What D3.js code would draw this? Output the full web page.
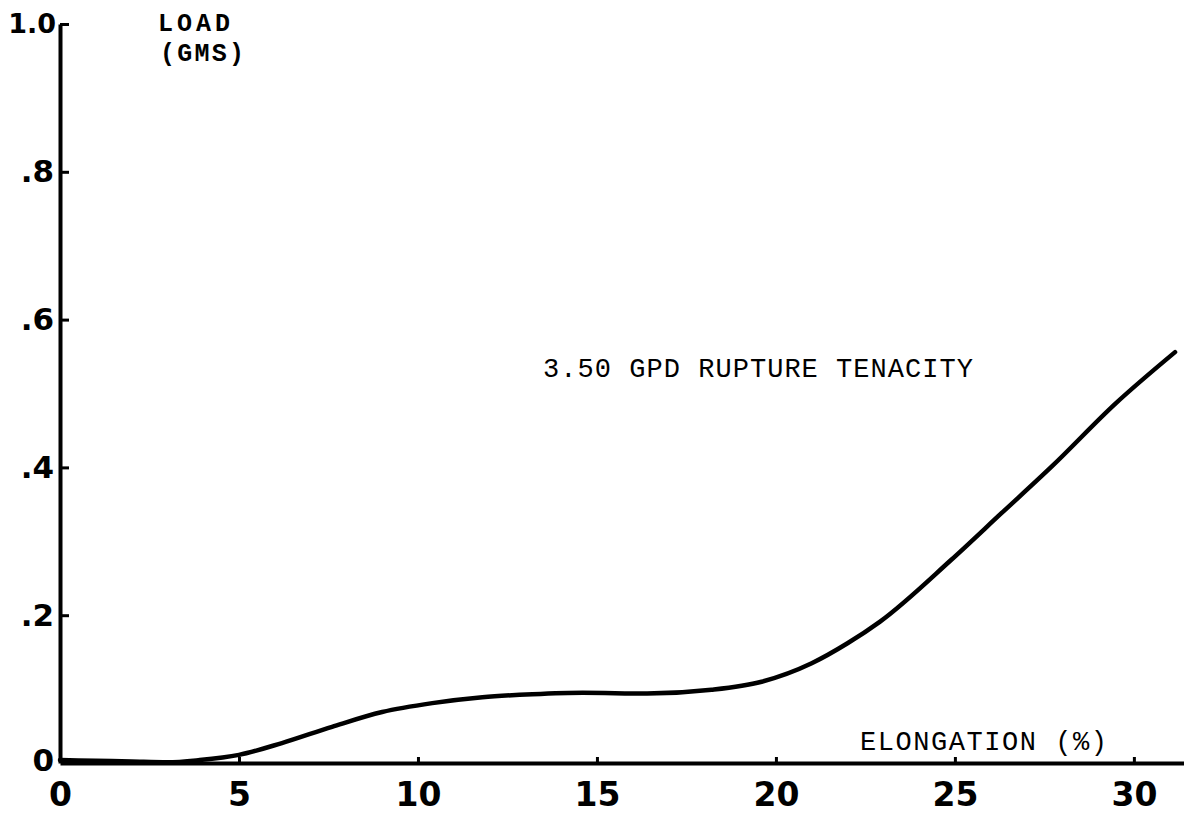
<!DOCTYPE html>
<html>
<head>
<meta charset="utf-8">
<script src="https://cdn.jsdelivr.net/npm/d3@7"></script>
<style>
  html, body { margin: 0; padding: 0; background: #fff; }
  svg { display: block; }
</style>
</head>
<body>
<svg id="chart" width="1184" height="814"></svg>
<script>
// ---- data ----
const elongation = [0, 1, 2, 3, 3.9, 5.0, 6.2, 7.6, 9.0, 10.4, 11.8, 13.2, 14.6, 16.4, 18.2, 19.6, 21.0, 22.0, 22.9, 24.9, 26.3, 27.7, 29.5, 31.15];
const load       = [0.004, 0.003, 0.002, 0.001, 0.004, 0.011, 0.027, 0.049, 0.069, 0.081, 0.089, 0.093, 0.095, 0.094, 0.099, 0.110, 0.135, 0.162, 0.191, 0.275, 0.338, 0.401, 0.487, 0.556];
const xTicks = [0, 5, 10, 15, 20, 25, 30];
const xTickLabels = ["0", "5", "10", "15", "20", "25", "30"];
const yTicks = [0, 0.2, 0.4, 0.6, 0.8, 1.0];
const yTickLabels = ["0", ".2", ".4", ".6", ".8", "1.0"];
const yAxisTitle = ["LOAD", "(GMS)"];
const xAxisTitle = "ELONGATION (%)";
const curveLabel = "3.50 GPD RUPTURE TENACITY";

// ---- layout ----
const svg = d3.select("#chart");
const x = d3.scaleLinear().domain([0, 31.4]).range([60, 1184]);
const y = d3.scaleLinear().domain([0, 1.0]).range([763, 24]);
const ink = "#000";
const tickFont = "'DejaVu Sans', sans-serif";
const typeFont = "'Liberation Mono', 'DejaVu Sans Mono', monospace";

// x axis
const xAxis = d3.axisBottom(x)
  .tickValues(xTicks)
  .tickFormat((d, i) => xTickLabels[i])
  .tickSizeInner(-6).tickSizeOuter(0).tickPadding(20);
const gx = svg.append("g").attr("transform", `translate(0,${y(0)})`).call(xAxis);
gx.select(".domain").attr("stroke", ink).attr("stroke-width", 4);
gx.selectAll(".tick line").attr("stroke", ink).attr("stroke-width", 3);
gx.selectAll(".tick").filter(d => d === 0).select("line").remove();
gx.selectAll(".tick text")
  .attr("font-family", tickFont).attr("font-weight", "bold")
  .attr("font-size", 33).attr("fill", ink);

// y axis
const yAxis = d3.axisLeft(y)
  .tickValues(yTicks)
  .tickFormat((d, i) => yTickLabels[i])
  .tickSizeInner(-9).tickSizeOuter(0).tickPadding(8);
const gy = svg.append("g").attr("transform", `translate(${x(0)},0)`).call(yAxis);
gy.select(".domain").attr("stroke", ink).attr("stroke-width", 4);
gy.selectAll(".tick line").attr("stroke", ink).attr("stroke-width", 3);
gy.selectAll(".tick").filter(d => d === 0).select("line").remove();
gy.selectAll(".tick text")
  .attr("font-family", tickFont).attr("font-weight", "bold")
  .attr("font-size", d => d === 1.0 ? 27 : 31).attr("fill", ink)
  .attr("dy", d => d === 0 ? "0.25em" : "0.32em")
  .attr("x", d => d === 1.0 ? -4 : -6);

// curve
const line = d3.line()
  .x((d, i) => x(elongation[i]))
  .y((d, i) => y(load[i]))
  .curve(d3.curveMonotoneX);
svg.append("path")
  .datum(load)
  .attr("d", line)
  .attr("fill", "none")
  .attr("stroke", ink)
  .attr("stroke-width", 4.5)
  .attr("stroke-linecap", "round");

// text labels
svg.append("text").attr("x", 158).attr("y", 31)
  .attr("font-family", typeFont).attr("font-weight", "bold")
  .attr("font-size", 25).attr("textLength", 72).attr("fill", ink)
  .text(yAxisTitle[0]);
svg.append("text").attr("x", 160).attr("y", 61)
  .attr("font-family", typeFont).attr("font-weight", "bold")
  .attr("font-size", 25).attr("textLength", 84).attr("fill", ink)
  .text(yAxisTitle[1]);
svg.append("text").attr("x", 543).attr("y", 377)
  .attr("font-family", typeFont)
  .attr("font-size", 27).attr("textLength", 430).attr("fill", ink)
  .text(curveLabel);
svg.append("text").attr("x", 860).attr("y", 750)
  .attr("font-family", typeFont)
  .attr("font-size", 27).attr("textLength", 247).attr("fill", ink)
  .text(xAxisTitle);
</script>
</body>
</html>
